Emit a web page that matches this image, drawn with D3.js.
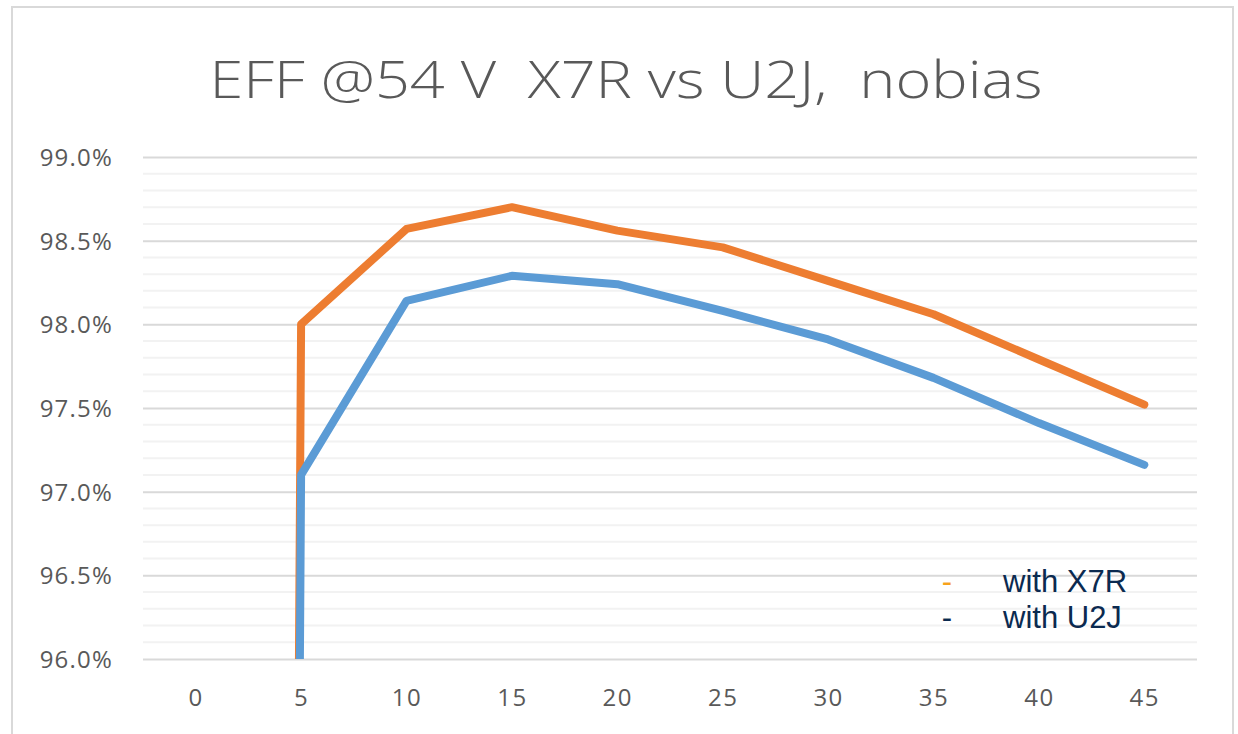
<!DOCTYPE html>
<head>
  <meta charset="utf-8">
  <script src="https://d3js.org/d3.v7.min.js"></script>
  <style>
    body { margin: 0; background: #fff; }
    svg { width: 1238px; height: 734px; display: block; }
  </style>
</head>

<body>
  <svg></svg>

  <script>
    // chart data (efficiency in %)
    const loads = ['0', '5', '10', '15', '20', '25', '30', '35', '40', '45'];
    const effX7R = [0, 98.00, 98.57, 98.70, 98.56, 98.46, 98.26, 98.06, 97.79, 97.52];
    const effU2J = [0, 97.10, 98.14, 98.29, 98.24, 98.08, 97.91, 97.68, 97.41, 97.16];
    const yTicks = [96.0, 96.5, 97.0, 97.5, 98.0, 98.5, 99.0];
    const seriesNames = ['with X7R', 'with U2J'];

    const width = 1238;
    const height = 734;
    const plot = { left: 143, right: 1197, top: 157, bottom: 659 };

    const svg = d3.select('svg')
      .attr('viewBox', `0 0 ${width} ${height}`);

    // chart frame
    svg.append('rect')
      .attr('x', 12).attr('y', 7)
      .attr('width', 1221).attr('height', 760)
      .attr('fill', '#fff')
      .attr('stroke', '#d9d9d9')
      .attr('stroke-width', 2);

    // scales
    const x = d3.scalePoint()
      .domain(loads)
      .range([plot.left, plot.right])
      .padding(0.5);
    const y = d3.scaleLinear()
      .domain([96, 99])
      .range([plot.bottom, plot.top]);

    // minor gridlines every 0.1 %
    const minor = d3.range(0, 31).map(i => 96 + i * 0.1)
      .filter((d, i) => i % 5 !== 0);
    svg.append('g')
      .selectAll('line')
      .data(minor)
      .join('line')
      .attr('x1', plot.left).attr('x2', plot.right)
      .attr('y1', d => y(d)).attr('y2', d => y(d))
      .attr('stroke', '#f2f2f2')
      .attr('stroke-width', 2);

    // y axis with major gridlines
    const yAxis = d3.axisLeft(y)
      .tickValues(yTicks)
      .tickSize(-(plot.right - plot.left))
      .tickPadding(30)
      .tickFormat(d => d3.format('.1f')(d) + '%');
    const gy = svg.append('g')
      .attr('transform', `translate(${plot.left},0)`)
      .call(yAxis);
    gy.select('.domain').remove();
    gy.selectAll('.tick line')
      .attr('stroke', '#d9d9d9')
      .attr('stroke-width', 2);
    gy.selectAll('.tick text')
      .attr('fill', '#595959')
      .attr('font-family', '"Open Sans", sans-serif')
      .attr('font-size', 24)
      .attr('letter-spacing', 1.2)
      .attr('dy', '0.36em');

    // x axis (labels only)
    const xAxis = d3.axisBottom(x).tickSize(0).tickPadding(30);
    const gx = svg.append('g')
      .attr('transform', `translate(0,${plot.bottom})`)
      .call(xAxis);
    gx.select('.domain').remove();
    gx.selectAll('.tick text')
      .attr('fill', '#595959')
      .attr('font-family', '"Open Sans", sans-serif')
      .attr('font-size', 24)
      .attr('letter-spacing', 1.5);

    // lines, clipped to the plot area
    svg.append('clipPath')
      .attr('id', 'plot-clip')
      .append('rect')
      .attr('x', plot.left).attr('y', plot.top - 10)
      .attr('width', plot.right - plot.left)
      .attr('height', plot.bottom - plot.top + 10);

    const line = d3.line()
      .x((d, i) => x(loads[i]))
      .y(d => y(d));

    const series = [
      { name: seriesNames[0], values: effX7R, color: '#ed7d31' },
      { name: seriesNames[1], values: effU2J, color: '#5b9bd5' }
    ];

    svg.append('g')
      .attr('clip-path', 'url(#plot-clip)')
      .selectAll('path')
      .data(series)
      .join('path')
      .attr('d', d => line(d.values))
      .attr('fill', 'none')
      .attr('stroke', d => d.color)
      .attr('stroke-width', 8)
      .attr('stroke-linejoin', 'round')
      .attr('stroke-linecap', 'round');

    // title
    svg.append('text')
      .attr('x', 626)
      .attr('y', 98)
      .attr('text-anchor', 'middle')
      .attr('fill', '#595959')
      .attr('font-family', '"Open Sans", sans-serif')
      .attr('font-weight', 300)
      .attr('font-size', 52)
      .attr('textLength', 833)
      .attr('lengthAdjust', 'spacingAndGlyphs')
      .style('white-space', 'pre')
      .text('EFF @54 V  X7R vs U2J,  nobias');

    // legend
    const legendColors = ['#f7a21b', '#0b2a50'];
    const legend = svg.append('g')
      .selectAll('g')
      .data(seriesNames)
      .join('g')
      .attr('transform', (d, i) => `translate(0,${592 + i * 36})`);
    legend.append('text')
      .attr('x', 947)
      .attr('text-anchor', 'middle')
      .attr('fill', (d, i) => legendColors[i])
      .attr('font-family', '"Liberation Sans", Arial, sans-serif')
      .attr('font-size', 31)
      .text('-');
    legend.append('text')
      .attr('x', 1003)
      .attr('fill', '#0b2a50')
      .attr('font-family', '"Liberation Sans", Arial, sans-serif')
      .attr('font-size', 31)
      .text(d => d);
  </script>
</body>
